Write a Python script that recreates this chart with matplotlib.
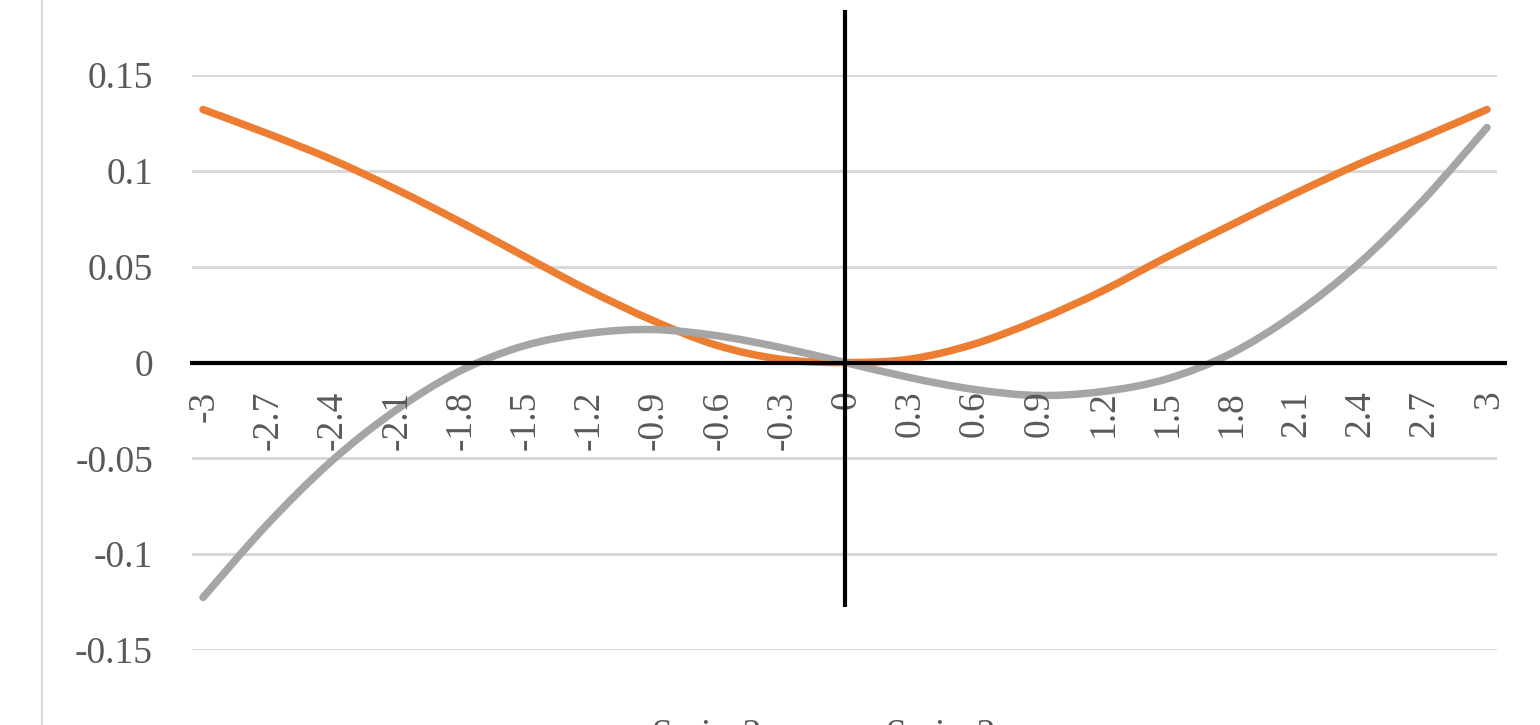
import matplotlib
matplotlib.use("Agg")
import matplotlib.pyplot as plt
import numpy as np
from matplotlib.path import Path
from matplotlib.patches import PathPatch
from matplotlib.lines import Line2D

plt.rcParams['font.family'] = ['Liberation Serif', 'DejaVu Serif']

# ---- data ----
x_values = [-3, -2.7, -2.4, -2.1, -1.8, -1.5, -1.2, -0.9, -0.6, -0.3, 0,
            0.3, 0.6, 0.9, 1.2, 1.5, 1.8, 2.1, 2.4, 2.7, 3]
x_labels = ["-3", "-2.7", "-2.4", "-2.1", "-1.8", "-1.5", "-1.2", "-0.9", "-0.6", "-0.3", "0",
            "0.3", "0.6", "0.9", "1.2", "1.5", "1.8", "2.1", "2.4", "2.7", "3"]
series2 = [0.132, 0.1195, 0.106, 0.0905, 0.0735, 0.0555, 0.0378, 0.022, 0.009, 0.0017, 0.0,
           0.0017, 0.0095, 0.022, 0.0372, 0.0548, 0.0715, 0.088, 0.1035, 0.1175, 0.132]
series3 = [-0.1226, -0.0845, -0.0515, -0.0250, -0.0045, 0.0087, 0.0152, 0.0172, 0.0140, 0.0078, 0.0,
           -0.0078, -0.0140, -0.0172, -0.0152, -0.0087, 0.0045, 0.0250, 0.0515, 0.0845, 0.1226]
series_names = ["Series2", "Series3"]
y_ticks = [-0.15, -0.1, -0.05, 0, 0.05, 0.1, 0.15]
y_labels = ["-0.15", "-0.1", "-0.05", "0", "0.05", "0.1", "0.15"]
# extents of the drawn axis lines (data units)
h_axis_span = [-3.06, 3.093]
v_axis_span = [-0.1276, 0.1839]

ORANGE = "#ED7D31"
GRAY = "#A5A5A5"
TEXT = "#595959"
GRID = "#D9D9D9"

W, H = 1540, 725
fig = plt.figure(figsize=(W / 100, H / 100), dpi=100)
ax = fig.add_axes([192 / W, (H - 650) / H, 1305 / W, 575 / H])
ax.set_xlim(-3 - 11 / 214, 3 + 10 / 214)
ax.set_ylim(-0.15, 0.15)
for s in ax.spines.values():
    s.set_visible(False)

ax.set_yticks(y_ticks)
ax.set_yticklabels(y_labels)
ax.tick_params(axis='y', length=0, pad=28, labelsize=27, labelcolor=TEXT)
ax.set_xticks([])
ax.yaxis.grid(True, color=GRID, lw=2.2)
ax.set_axisbelow(True)


def smooth_path(xs, ys):
    pts = np.column_stack([xs, ys]).astype(float)
    n = len(pts)
    verts = [pts[0]]
    codes = [Path.MOVETO]
    for i in range(n - 1):
        p0 = pts[i - 1] if i > 0 else pts[i]
        p1 = pts[i]
        p2 = pts[i + 1]
        p3 = pts[i + 2] if i + 2 < n else pts[i + 1]
        c1 = p1 + (p2 - p0) / 6.0
        c2 = p2 - (p3 - p1) / 6.0
        verts += [c1, c2, p2]
        codes += [Path.CURVE4] * 3
    return Path(verts, codes)


for ys, col in [(series2, ORANGE), (series3, GRAY)]:
    patch = PathPatch(smooth_path(x_values, ys), fill=False, edgecolor=col, lw=5.4,
                      capstyle='round', joinstyle='round', zorder=3)
    ax.add_patch(patch)

# axis lines
ax.plot(h_axis_span, [0, 0], color='black', lw=3, zorder=5, clip_on=False, solid_capstyle='butt')
ax.plot([0, 0], v_axis_span, color='black', lw=3, zorder=5, clip_on=False, solid_capstyle='butt')

# category labels along the zero line
for xv, lab in zip(x_values, x_labels):
    ax.annotate(lab, xy=(xv, 0), xytext=(1, -20), textcoords='offset points',
                rotation=90, ha='center', va='top', fontsize=27, color=TEXT,
                annotation_clip=False, zorder=4)

# legend (mostly below the visible area, as in the reference)
handles = [Line2D([], [], color=ORANGE, lw=5.4), Line2D([], [], color=GRAY, lw=5.4)]
fig.legend(handles, series_names, loc='center', bbox_to_anchor=(781 / W, -11 / H),
           ncol=2, frameon=False, fontsize=27, labelcolor=TEXT, handlelength=1.8,
           handletextpad=0.5, columnspacing=1.0, borderpad=0)

# chart-area border on the left
fig.add_artist(Line2D([42 / W, 42 / W], [0, 1], color=GRID, lw=1.6))

fig.savefig("out.png", dpi=100)
